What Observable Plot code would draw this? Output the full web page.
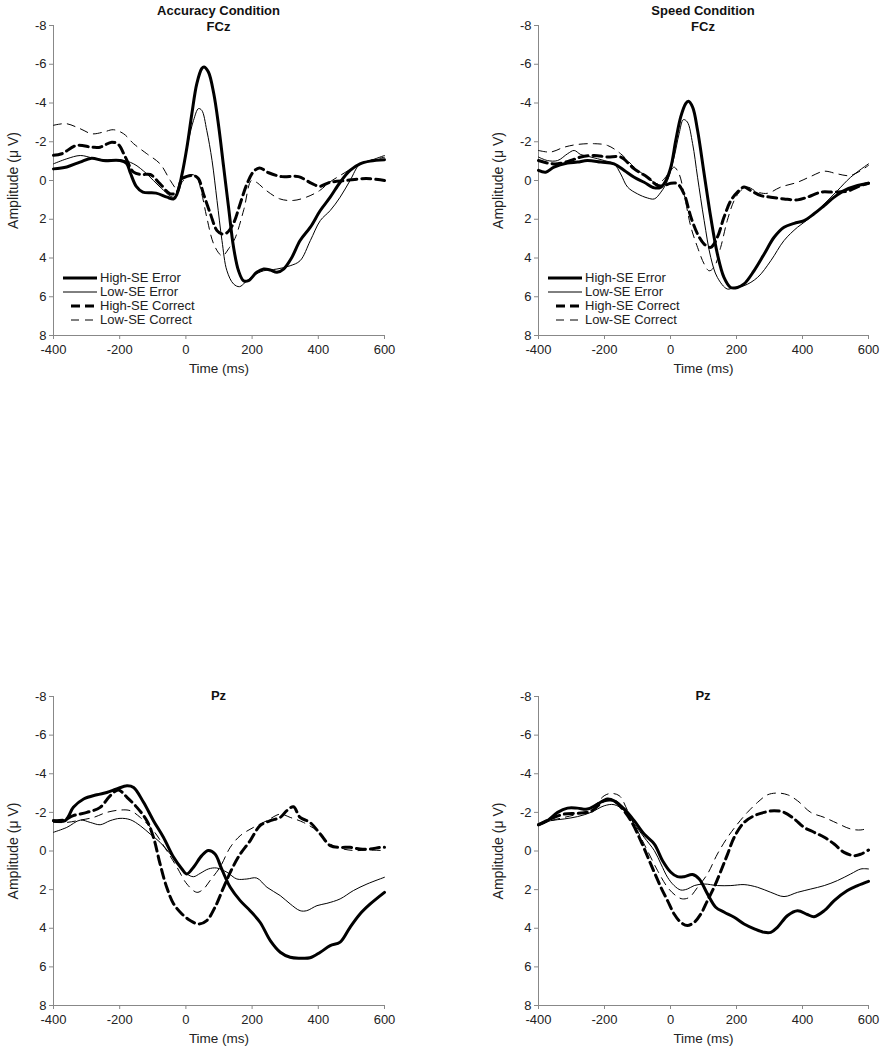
<!DOCTYPE html>
<html>
<head>
<meta charset="utf-8">
<script src="https://cdn.jsdelivr.net/npm/d3@7"></script>
<script src="https://cdn.jsdelivr.net/npm/@observablehq/plot@0.6"></script>
<style>
  html, body { margin: 0; padding: 0; background: #fff; }
  #root { position: relative; width: 882px; height: 1050px; font-family: "Liberation Sans", Arial, sans-serif; color: #222; }
  .panel { position: absolute; width: 441px; }
  .title { position: absolute; font-weight: bold; font-size: 13px; text-align: center; line-height: 16px; white-space: nowrap; transform: translateX(-50%); color: #111; }
  .legend { position: absolute; font-size: 13px; line-height: 14px; }
  .legend div { display: flex; align-items: center; height: 14px; }
  .legend svg { margin-right: 2px; }
</style>
</head>
<body>
<div id="root"></div>
<script>
// ---------- data (time ms, amplitude µV) ----------
const xTicks = [-400, -200, 0, 200, 400, 600];
const yTicks = [-8, -6, -4, -2, 0, 2, 4, 6, 8];
const seriesNames = ["High-SE Error", "Low-SE Error", "High-SE Correct", "Low-SE Correct"];
const panelTitles = [["Accuracy Condition", "FCz"], ["Speed Condition", "FCz"], ["Pz"], ["Pz"]];

// Accuracy, FCz
const accFCz_highErr = [[-400,-0.6],[-360,-0.7],[-320,-0.95],[-285,-1.15],[-250,-1.03],[-200,-1.03],[-180,-0.9],[-168,-0.4],[-150,0.3],[-130,0.6],[-90,0.65],[-57,0.86],[-37,0.95],[-27,0.7],[-12,-0.3],[3,-1.7],[18,-3.45],[33,-5.0],[48,-5.78],[55,-5.86],[68,-5.6],[84,-4.5],[99,-2.8],[114,-0.7],[129,1.4],[144,3.45],[159,4.66],[174,5.17],[189,5.17],[214,4.74],[235,4.57],[255,4.62],[275,4.74],[295,4.57],[320,3.97],[345,3.1],[376,2.41],[406,1.55],[436,0.86],[466,0.09],[496,-0.52],[526,-0.86],[557,-1.0],[600,-1.07]];
const accFCz_lowErr = [[-400,-0.86],[-360,-1.12],[-319,-1.29],[-284,-1.17],[-249,-1.07],[-198,-1.07],[-158,-0.86],[-118,-0.34],[-78,0.34],[-37,0.86],[-22,0.34],[-7,-0.69],[8,-2.07],[23,-3.1],[38,-3.71],[48,-3.62],[63,-2.59],[79,-1.03],[94,1.03],[109,3.1],[124,4.66],[144,5.34],[162,5.48],[179,5.26],[204,4.91],[235,4.66],[275,4.57],[315,4.4],[345,4.14],[376,3.1],[406,2.07],[436,1.55],[466,0.86],[496,0],[526,-0.86],[557,-1.03],[600,-1.29]];
const accFCz_highCor = [[-400,-1.3],[-375,-1.38],[-330,-1.81],[-284,-1.72],[-259,-1.72],[-224,-1.98],[-204,-1.86],[-183,-1.21],[-158,-0.43],[-133,-0.31],[-108,-0.31],[-78,0.17],[-47,0.69],[-27,0.6],[-12,-0.09],[3,-0.21],[23,-0.26],[38,-0.09],[53,0.69],[74,1.72],[94,2.59],[109,2.76],[124,2.7],[144,2.2],[164,1.2],[184,0.2],[204,-0.45],[222,-0.65],[250,-0.4],[290,-0.2],[340,-0.2],[380,0.15],[404,0.3],[434,0.1],[484,0],[545,-0.1],[600,0]];
const accFCz_lowCor = [[-400,-2.85],[-385,-2.9],[-360,-2.93],[-319,-2.67],[-284,-2.41],[-249,-2.5],[-219,-2.62],[-188,-2.41],[-158,-1.9],[-118,-1.38],[-78,-0.86],[-47,0],[-27,0.43],[-12,0.09],[3,-0.17],[18,-0.31],[33,-0.17],[48,0.69],[63,1.9],[84,3.28],[105,3.85],[113,3.87],[130,3.5],[148,3.0],[175,1.5],[198,0],[213,0.09],[243,0.52],[284,0.95],[324,1.03],[364,0.86],[404,0.52],[434,0.09],[470,-0.3],[510,-0.7],[550,-1.0],[600,-1.2]];

// Speed, FCz
const spdFCz_highErr = [[-400,-0.52],[-378,-0.43],[-353,-0.69],[-312,-0.9],[-282,-0.95],[-252,-1.03],[-211,-0.95],[-171,-0.86],[-140,-0.52],[-110,-0.17],[-80,0.09],[-49,0.38],[-29,0.34],[-14,0],[1,-0.69],[16,-2.07],[31,-3.28],[46,-3.97],[54,-4.09],[67,-3.79],[82,-2.59],[102,-0.34],[122,1.9],[142,3.79],[162,5.0],[182,5.52],[203,5.52],[223,5.34],[253,4.66],[284,3.79],[314,2.93],[344,2.41],[375,2.21],[405,2.07],[435,1.72],[466,1.29],[496,0.86],[526,0.52],[567,0.26],[600,0.14]];
const spdFCz_lowErr = [[-400,-1.21],[-373,-1.03],[-342,-1.03],[-312,-1.38],[-292,-1.55],[-272,-1.34],[-241,-1.21],[-201,-1.03],[-171,-0.86],[-151,-0.34],[-130,0.34],[-100,0.69],[-70,0.9],[-49,0.95],[-29,0.6],[-9,0],[11,-1.21],[26,-2.41],[39,-3.14],[51,-3.02],[67,-1.9],[82,-0.17],[102,2.07],[122,3.97],[142,5.0],[172,5.6],[193,5.52],[223,5.43],[264,5.0],[304,4.14],[344,3.1],[385,2.41],[425,1.9],[466,1.21],[506,0.52],[546,-0.17],[600,-0.86]];
const spdFCz_highCor = [[-400,-1.03],[-373,-0.9],[-342,-0.86],[-302,-1.03],[-272,-1.21],[-231,-1.29],[-191,-1.21],[-151,-1.21],[-110,-0.6],[-70,-0.17],[-39,0.26],[-19,0.26],[1,0.14],[21,0.17],[41,0.69],[62,1.9],[82,2.76],[102,3.28],[122,3.45],[142,2.93],[162,1.9],[183,1.03],[203,0.6],[223,0.34],[243,0.52],[274,0.78],[304,0.86],[344,0.95],[385,1.0],[415,0.86],[456,0.6],[496,0.6],[536,0.55],[577,0.26],[600,0.14]];
const spdFCz_lowCor = [[-400,-1.55],[-363,-1.47],[-322,-1.72],[-282,-1.86],[-231,-1.9],[-191,-1.81],[-151,-1.38],[-110,-0.69],[-70,-0.17],[-39,0.17],[-19,-0.09],[1,-0.52],[11,-0.69],[26,-0.34],[41,0.69],[62,2.41],[82,3.45],[102,4.31],[117,4.66],[132,4.48],[152,3.45],[172,2.07],[193,1.03],[213,0.52],[233,0.34],[264,0.6],[294,0.66],[334,0.34],[385,0.09],[425,-0.21],[466,-0.48],[506,-0.34],[546,-0.26],[600,-0.78]];

// Accuracy, Pz
const accPz_highErr = [[-400,-1.57],[-365,-1.57],[-340,-2.26],[-309,-2.69],[-269,-2.91],[-239,-3.03],[-209,-3.21],[-178,-3.38],[-158,-3.29],[-128,-2.52],[-98,-1.57],[-68,-0.71],[-37,0.33],[-12,0.93],[3,1.19],[23,0.84],[48,0.24],[68,-0.02],[88,0.16],[108,0.93],[134,1.88],[164,2.57],[194,3.09],[224,3.69],[255,4.64],[285,5.24],[315,5.5],[345,5.55],[375,5.53],[406,5.24],[436,4.9],[466,4.72],[496,3.95],[526,3.26],[557,2.74],[600,2.14]];
const accPz_lowErr = [[-400,-0.97],[-360,-1.22],[-319,-1.6],[-289,-1.48],[-259,-1.36],[-229,-1.57],[-199,-1.69],[-168,-1.62],[-138,-1.31],[-108,-0.88],[-78,-0.45],[-47,0.16],[-17,0.84],[3,1.19],[23,1.33],[43,1.16],[68,0.93],[93,0.88],[124,1.1],[154,1.45],[184,1.45],[214,1.4],[245,1.88],[285,2.31],[315,2.74],[345,3.09],[365,3.09],[396,2.83],[426,2.71],[466,2.48],[506,2.05],[547,1.71],[600,1.36]];
const accPz_highCor = [[-400,-1.57],[-370,-1.6],[-340,-1.83],[-299,-2.0],[-259,-2.26],[-229,-2.86],[-204,-3.16],[-178,-2.78],[-148,-2.26],[-118,-1.57],[-98,-0.71],[-78,0.67],[-58,1.88],[-37,2.74],[-12,3.26],[13,3.6],[38,3.78],[63,3.6],[88,2.91],[114,1.88],[139,0.93],[164,0.16],[194,-0.53],[224,-1.31],[255,-1.57],[285,-1.74],[305,-2.09],[325,-2.29],[345,-1.74],[375,-1.48],[406,-0.88],[436,-0.28],[466,-0.19],[496,-0.19],[526,-0.1],[557,-0.1],[587,-0.19],[600,-0.19]];
const accPz_lowCor = [[-400,-1.48],[-360,-1.48],[-319,-1.6],[-279,-1.74],[-239,-2.0],[-199,-2.12],[-168,-2.09],[-138,-1.74],[-98,-1.05],[-58,-0.02],[-27,0.84],[3,1.71],[33,2.14],[53,1.97],[73,1.53],[103,0.84],[134,-0.19],[164,-0.79],[204,-1.22],[245,-1.57],[285,-1.91],[315,-1.74],[355,-1.48],[396,-1.05],[436,-0.36],[476,-0.1],[517,-0.02],[547,-0.05],[600,-0.02]];

// Speed, Pz
const spdPz_highErr = [[-400,-1.36],[-373,-1.57],[-342,-2.0],[-312,-2.22],[-282,-2.22],[-252,-2.17],[-221,-2.43],[-191,-2.69],[-171,-2.6],[-140,-2.17],[-110,-1.57],[-80,-0.88],[-49,-0.36],[-24,0.5],[1,1.1],[21,1.33],[41,1.33],[67,1.22],[87,1.45],[112,2.22],[137,2.91],[163,3.17],[193,3.43],[223,3.78],[254,4.03],[284,4.21],[304,4.21],[324,3.95],[355,3.34],[385,3.09],[415,3.29],[435,3.4],[466,3.09],[496,2.57],[536,2.05],[567,1.79],[600,1.57]];
const spdPz_lowErr = [[-400,-1.36],[-363,-1.57],[-322,-1.66],[-282,-1.78],[-241,-2.0],[-201,-2.34],[-171,-2.4],[-140,-2.09],[-110,-1.4],[-80,-0.71],[-49,-0.02],[-29,0.67],[-9,1.36],[11,1.79],[31,2.02],[51,1.97],[72,1.79],[102,1.71],[142,1.79],[183,1.79],[223,1.74],[264,1.88],[304,2.14],[344,2.36],[385,2.14],[425,1.97],[466,1.79],[506,1.53],[546,1.19],[577,0.93],[600,0.93]];
const spdPz_highCor = [[-400,-1.36],[-363,-1.66],[-322,-1.91],[-282,-1.95],[-241,-2.05],[-201,-2.6],[-171,-2.6],[-145,-2.17],[-120,-1.57],[-90,-0.53],[-60,0.67],[-29,1.88],[-9,2.57],[11,3.26],[31,3.69],[51,3.86],[72,3.69],[92,3.26],[112,2.57],[132,1.88],[153,1.02],[173,0.16],[193,-0.71],[223,-1.48],[254,-1.83],[284,-2.0],[314,-2.09],[344,-2.0],[375,-1.66],[405,-1.22],[435,-0.97],[466,-0.71],[496,-0.36],[526,0.07],[557,0.24],[577,0.16],[600,-0.05]];
const spdPz_lowCor = [[-400,-1.36],[-363,-1.57],[-322,-1.74],[-282,-1.91],[-241,-2.17],[-201,-2.86],[-181,-2.98],[-155,-2.86],[-130,-2.09],[-100,-1.05],[-70,-0.02],[-39,1.02],[-9,1.88],[16,2.31],[36,2.48],[57,2.4],[82,1.88],[112,1.19],[142,0.16],[173,-0.71],[203,-1.4],[233,-2.0],[264,-2.52],[294,-2.91],[324,-3.0],[355,-2.91],[385,-2.6],[425,-2.0],[466,-1.74],[506,-1.43],[546,-1.14],[577,-1.09],[600,-1.19]];

// ---------- styles ----------
const styles = [
  {strokeWidth: 3, dash: null},
  {strokeWidth: 1, dash: null},
  {strokeWidth: 3, dash: "9,5"},
  {strokeWidth: 1, dash: "8,6"}
];

const panels = [
  {left: 0,   top: 0,   h: 390, ml: 53, mr: 57, mt: 25, mb: 55, data: [accFCz_highErr, accFCz_lowErr, accFCz_highCor, accFCz_lowCor], legend: true, titleTop: [3, 19]},
  {left: 441, top: 0,   h: 390, ml: 97, mr: 14, mt: 25, mb: 55, data: [spdFCz_highErr, spdFCz_lowErr, spdFCz_highCor, spdFCz_lowCor], legend: true, titleTop: [3, 19]},
  {left: 0,   top: 620, h: 430, ml: 53, mr: 57, mt: 76, mb: 45, data: [accPz_highErr, accPz_lowErr, accPz_highCor, accPz_lowCor], legend: false, titleTop: [68]},
  {left: 441, top: 620, h: 430, ml: 97, mr: 14, mt: 76, mb: 45, data: [spdPz_highErr, spdPz_lowErr, spdPz_highCor, spdPz_lowCor], legend: false, titleTop: [68]}
];

const root = document.getElementById("root");
const fmt = d => String(d);

panels.forEach((p, i) => {
  const div = document.createElement("div");
  div.className = "panel";
  div.style.left = p.left + "px";
  div.style.top = p.top + "px";
  div.style.height = p.h + "px";

  const lineMarks = p.data.map((arr, k) => Plot.line(arr, {
    x: d => d[0], y: d => d[1],
    stroke: "#000",
    strokeWidth: styles[k].strokeWidth,
    strokeDasharray: styles[k].dash || undefined,
    curve: "catmull-rom",
    strokeLinejoin: "round"
  }));

  const chart = Plot.plot({
    width: 441, height: p.h,
    marginLeft: p.ml, marginRight: p.mr, marginTop: p.mt, marginBottom: p.mb,
    style: {fontFamily: '"Liberation Sans", Arial, sans-serif', fontSize: "13px", color: "#222", background: "transparent", overflow: "visible"},
    x: {domain: [-400, 600]},
    y: {domain: [-8, 8], reverse: true},
    marks: [
      Plot.axisX({ticks: xTicks, tickFormat: fmt, tickSize: 4, tickPadding: 5, stroke: "#888", fill: "#222"}),
      Plot.axisX({ticks: [], label: "Time (ms)", labelAnchor: "center", labelArrow: "none", labelOffset: 37, fill: "#222", fontSize: 13.5}),
      Plot.axisY({ticks: yTicks, tickFormat: fmt, tickSize: 4, tickPadding: 3, stroke: "#888", fill: "#222"}),
      Plot.axisY({ticks: [], label: "Amplitude (μ V)", labelAnchor: "center", labelArrow: "none", labelOffset: 45, fill: "#222", fontSize: 14}),
      Plot.ruleX([-400], {stroke: "#888"}),
      Plot.ruleY([8], {stroke: "#888"}),
      ...lineMarks
    ]
  });
  div.appendChild(chart);

  // title
  const frameCenter = p.ml + (441 - p.ml - p.mr) / 2;
  panelTitles[i].forEach((t, j) => {
    const tt = document.createElement("div");
    tt.className = "title";
    tt.textContent = t;
    tt.style.left = frameCenter + "px";
    tt.style.top = p.titleTop[j] + "px";
    div.appendChild(tt);
  });

  // legend
  if (p.legend) {
    const lg = document.createElement("div");
    lg.className = "legend";
    lg.style.left = (p.ml + 10) + "px";
    lg.style.top = "271px";
    seriesNames.forEach((name, k) => {
      const row = document.createElement("div");
      const ns = "http://www.w3.org/2000/svg";
      const s = document.createElementNS(ns, "svg");
      s.setAttribute("width", "35"); s.setAttribute("height", "14");
      const l = document.createElementNS(ns, "line");
      const dashed = !!styles[k].dash;
      l.setAttribute("x1", dashed ? "8" : "0"); l.setAttribute("x2", dashed ? "32" : "34");
      l.setAttribute("y1", "7"); l.setAttribute("y2", "7");
      l.setAttribute("stroke", "#000");
      l.setAttribute("stroke-width", styles[k].strokeWidth);
      if (dashed) l.setAttribute("stroke-dasharray", styles[k].dash);
      s.appendChild(l);
      row.appendChild(s);
      const tx = document.createElement("span");
      tx.textContent = name;
      row.appendChild(tx);
      lg.appendChild(row);
    });
    div.appendChild(lg);
  }

  root.appendChild(div);
});
</script>
</body>
</html>
